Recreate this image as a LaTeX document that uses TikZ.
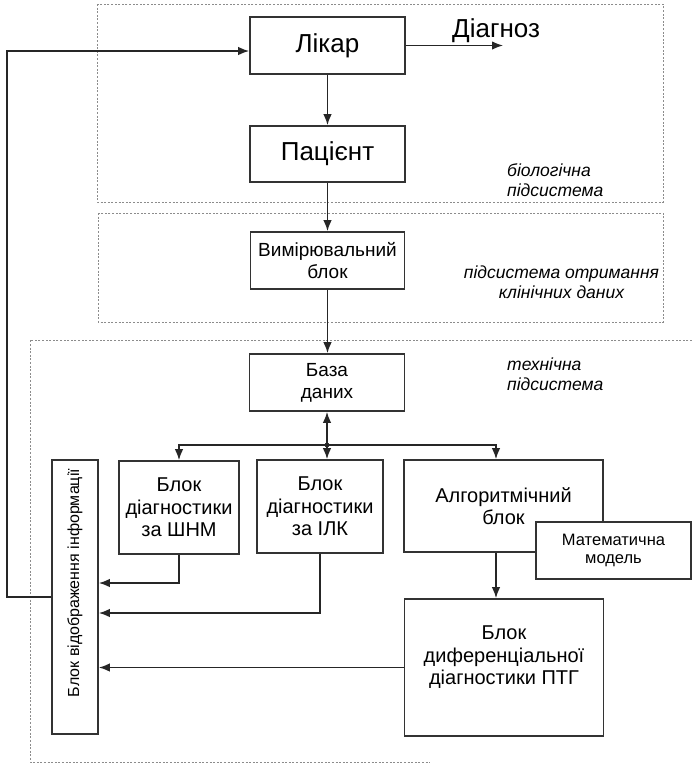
\documentclass[tikz,border=0pt]{standalone}
\usepackage{fontspec}
\setmainfont{Liberation Sans}
\usetikzlibrary{arrows.meta}
\begin{document}
\begin{tikzpicture}[x=1pt,y=-1pt,
  blk/.style={draw=black!80, line width=1.7pt, fill=white, align=center, inner sep=0pt},
  arr/.style={draw=black!85, line width=1.5pt, -{Latex[length=11pt,width=8.5pt]}},
  zone/.style={draw=black!45, line width=0.7pt, dash pattern=on 2pt off 1.6pt},
  big/.style={font=\fontsize{26}{29}\selectfont},
  mid/.style={font=\fontsize{19}{22}\selectfont},
  txt/.style={font=\fontsize{20}{22.5}\selectfont},
  lbl/.style={font=\fontsize{17.5}{20}\selectfont\itshape, inner sep=0pt}]
\useasboundingbox (0,0) rectangle (692,764);
\fill[white] (0,0) rectangle (692,764);
% zones
\draw[zone] (97,4) rectangle (663,202);
\draw[zone] (98,213) rectangle (663,322);
\draw[zone] (692,340) -- (30,340) -- (30,762) -- (430,762);
% blocks
\node[blk, big, minimum width=155pt, minimum height=57pt] (likar) at (327.5,45.5) {Лікар};
\node[blk, big, minimum width=155pt, minimum height=56pt] (pac) at (327.5,154) {Пацієнт};
\node[blk, mid, minimum width=154pt, minimum height=57pt] (vym) at (327.5,260.5) {Вимірювальний\\блок};
\node[blk, mid, minimum width=155pt, minimum height=57pt] (baza) at (327,382.5) {База\\даних};
\node[blk, txt, minimum width=120pt, minimum height=93pt] (shnm) at (179,507.5) {Блок\\діагностики\\за ШНМ};
\node[blk, txt, minimum width=126pt, minimum height=93pt] (ilk) at (320,506.5) {Блок\\діагностики\\за ІЛК};
\node[blk, txt, minimum width=199pt, minimum height=92pt] (alg) at (503.5,506) {Алгоритмічний\\блок};
\node[blk, font=\fontsize{16.5}{18.5}\selectfont, minimum width=155pt, minimum height=57pt] (mat) at (613.5,550.5) {Математична\\модель};
\node[blk, txt, minimum width=199pt, minimum height=137pt] (ptg) at (504,667.5) {Блок\\диференціальної\\діагностики ПТГ\\[2pt]};
\node[blk, font=\fontsize{16}{19}\selectfont, rotate=90, minimum width=274pt, minimum height=46pt] (vid) at (75,597) {\hspace*{28pt}Блок відображення інформації};
% labels
\node[big, anchor=base west, inner sep=0pt] (diag) at (452,37) {Діагноз};
\node[lbl, align=left, anchor=west] (bio) at (507,180) {біологічна\\підсистема};
\node[lbl, align=center] (clin) at (561.5,282) {підсистема отримання\\клінічних даних};
\node[lbl, align=left, anchor=west] (tech) at (507,374) {технічна\\підсистема};
% coordinates
\coordinate (dg) at (503,45.5);
\coordinate (fb) at (7,51);
\coordinate (j) at (327,445);
\coordinate (ja) at (496,445);
% connectors
\draw[arr] (likar.east) -- (dg);
\draw[arr] (vid.north) -| (fb) -- (fb -| likar.west);
\draw[arr] (likar.south) -- (pac.north);
\draw[arr] (pac.south) -- (vym.north);
\draw[arr] (vym.south) -- (vym.south |- baza.north);
\draw[arr] (j) -- (baza.south);
\draw[arr] (j) -- (j |- ilk.north);
\draw[arr] (j) -| (shnm.north);
\draw[arr] (j) -- (ja) -- (ja |- alg.north);
\fill[black!85] (j) circle (2.4pt);
\draw[arr] (ja |- alg.south) -- (ja |- ptg.north);
\draw[arr] (shnm.south) |- ([yshift=14pt]vid.south);
\draw[arr] (ilk.south) |- ([yshift=-16pt]vid.south);
\draw[arr] (ptg.west) -- (ptg.west -| vid.south);
\end{tikzpicture}
\end{document}
